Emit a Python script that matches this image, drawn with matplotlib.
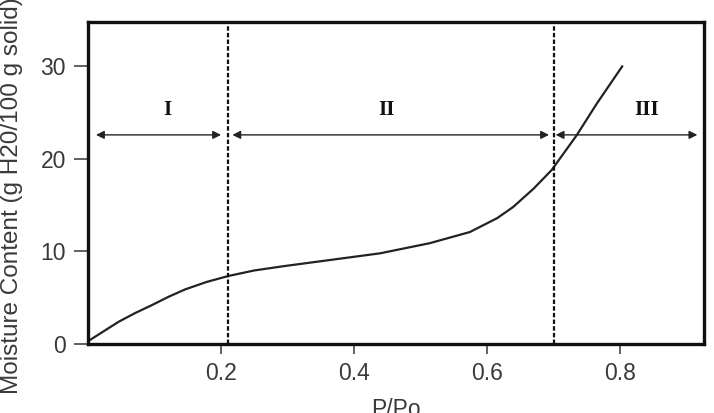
import matplotlib.pyplot as plt

plt.rcParams.update({
    "font.family": ["Liberation Sans", "DejaVu Sans"],
    "axes.unicode_minus": False,
})

# sorption isotherm
p_po = [0.0, 0.023, 0.046, 0.071, 0.096, 0.121, 0.146, 0.178, 0.211,
        0.25, 0.296, 0.364, 0.439, 0.514, 0.574, 0.615, 0.639, 0.67,
        0.697, 0.735, 0.765, 0.803]
moisture = [0.3, 1.35, 2.4, 3.35, 4.2, 5.1, 5.9, 6.7, 7.35,
            7.95, 8.43, 9.08, 9.8, 10.9, 12.1, 13.6, 14.8, 16.8,
            18.8, 22.6, 26.0, 30.0]

boundaries = [0.21, 0.70]
region_names = ["I", "II", "III"]
region_starts = [0.012, 0.217, 0.703]
region_ends = [0.200, 0.693, 0.916]
region_label_x = [0.12, 0.448, 0.84]
arrow_y = 22.6
label_y = 25.3

xticks = [0.2, 0.4, 0.6, 0.8]
yticks = [0, 10, 20, 30]

fig = plt.figure(figsize=(7.14, 4.13), dpi=100)
ax = fig.add_axes([88 / 714, 1 - 344 / 413, 616 / 714, 322 / 413])

ax.plot(p_po, moisture, color="#222222", linewidth=1.6)

for b in boundaries:
    ax.axvline(b, color="#111111", linewidth=1.6, linestyle=(0, (2.0, 1.0)))

for name, x0, x1, lx in zip(region_names, region_starts, region_ends, region_label_x):
    ax.annotate("", xy=(x1, arrow_y), xytext=(x0, arrow_y),
                arrowprops=dict(arrowstyle="<|-|>", color="#222222", lw=1.0,
                                mutation_scale=12, shrinkA=0, shrinkB=0))
    ax.text(lx, label_y, name, ha="center", va="center", fontsize=15,
            fontweight="bold", family=["Liberation Serif", "DejaVu Serif"],
            color="#111111")

ax.set_xlim(0, 0.926)
ax.set_ylim(0, 34.8)
ax.set_xticks(xticks)
ax.set_xticklabels([f"{t:.1f}" for t in xticks])
ax.set_yticks(yticks)

for s in ax.spines.values():
    s.set_linewidth(2.4)
    s.set_color("#111111")

ax.tick_params(axis="y", length=10, width=1.3, color="#555555", pad=6,
               labelsize=16.5, labelcolor="#3a3a3a")
ax.tick_params(axis="x", length=7, width=1.3, color="#555555", pad=6,
               labelsize=16.5, labelcolor="#3a3a3a")

fig.text(12 / 714, 1 - 196 / 413, "Moisture Content (g H20/100 g solid)",
         rotation=90, ha="center", va="center", fontsize=17.5, color="#3a3a3a")
fig.text(396 / 714, 1 - 409 / 413, "P/Po", ha="center", va="center",
         fontsize=16.5, color="#3a3a3a")

fig.savefig("out.png", dpi=100)
